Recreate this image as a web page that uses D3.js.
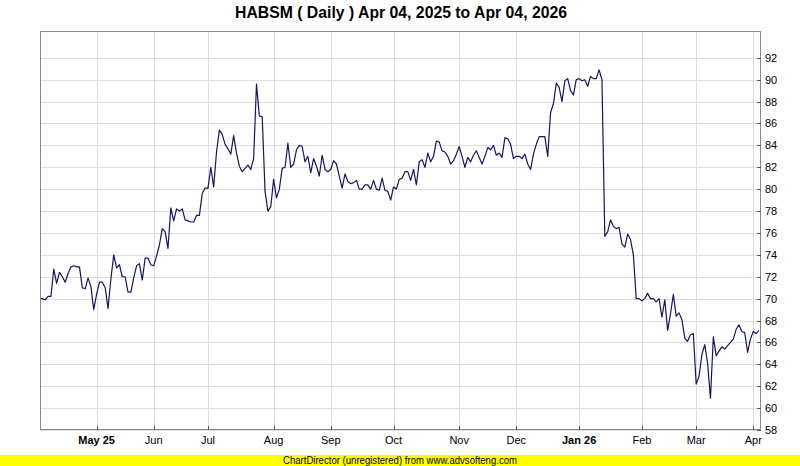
<!DOCTYPE html>
<html>
<head>
<meta charset="utf-8">
<script src="https://cdn.jsdelivr.net/npm/d3@7"></script>
<style>
  body { margin: 0; background: #ffffff; }
  svg { display: block; font-family: "Liberation Sans", Arial, sans-serif; }
</style>
</head>
<body>
<svg id="chart"></svg>
<script>
// daily closing prices, one per trading day (Apr 04 2025 -> Apr 04 2026)
const closes = [
  70.0, 70.0, 69.9, 70.2, 70.2, 72.7, 71.4, 72.4, 72.0, 71.5,
  72.3, 72.9, 73.0, 72.9, 72.9, 71.0, 70.9, 71.9, 71.1, 69.0,
  70.4, 71.5, 71.5, 71.0, 69.1, 71.8, 74.0, 72.8, 73.1, 72.0,
  72.0, 70.6, 70.6, 71.9, 73.0, 73.2, 71.7, 73.7, 73.7, 73.1,
  73.0, 73.9, 74.9, 76.4, 76.1, 74.6, 78.3, 77.1, 78.2, 78.0,
  78.2, 77.2, 77.1, 77.0, 77.0, 77.6, 77.6, 79.6, 80.1, 80.1,
  82.0, 80.2, 83.4, 85.4, 85.0, 84.1, 83.7, 83.2, 84.9, 83.3,
  82.1, 81.6, 81.9, 82.2, 81.8, 82.8, 89.6, 86.7, 86.6, 79.8,
  78.0, 78.4, 80.9, 79.2, 80.0, 81.9, 82.0, 84.2, 82.0, 82.3,
  83.6, 84.0, 83.9, 82.5, 83.0, 81.5, 82.8, 82.1, 81.2, 83.1,
  81.8, 81.6, 81.8, 82.6, 82.3, 81.2, 80.1, 81.4, 80.7, 80.5,
  80.6, 80.8, 80.0, 80.0, 80.4, 80.4, 80.0, 80.8, 80.0, 79.9,
  81.0, 79.9, 79.8, 79.0, 80.2, 80.0, 80.9, 81.0, 81.6, 81.6,
  80.8, 81.8, 80.4, 82.5, 82.7, 82.0, 83.3, 82.5, 83.0, 84.4,
  84.3, 83.5, 83.4, 83.0, 82.3, 82.6, 83.2, 83.9, 83.0, 82.0,
  82.9, 82.5, 83.1, 83.5, 82.9, 82.3, 83.0, 83.8, 83.6, 84.0,
  83.1, 83.3, 82.9, 84.7, 84.6, 84.1, 82.8, 83.0, 83.0, 82.8,
  83.2, 82.3, 81.8, 83.2, 84.1, 84.8, 84.8, 84.8, 83.0, 87.0,
  87.8, 89.7, 89.3, 88.0, 89.9, 90.1, 89.0, 88.6, 90.0, 90.1,
  89.9, 90.0, 89.4, 90.3, 90.1, 90.1, 90.9, 90.0, 75.7, 76.1,
  77.2, 76.6, 76.4, 76.5, 75.0, 74.7, 75.9, 75.4, 74.0, 70.0,
  70.0, 69.8, 70.0, 70.5, 70.0, 70.0, 69.7, 70.0, 68.3, 69.9,
  67.1, 68.6, 70.4, 68.4, 68.7, 68.1, 66.4, 66.1, 66.7, 66.8,
  62.2, 62.9, 64.9, 65.8, 64.1, 60.9, 66.5, 64.8, 65.2, 65.6,
  65.4, 65.7, 66.0, 66.3, 67.2, 67.6, 67.0, 66.9, 65.1, 66.3,
  67.0, 66.8, 67.1
];

// first trading day of each month (index into closes) and its label
const monthIndex  = [20, 40, 59, 82, 102, 124, 147, 167, 189, 211, 230, 250];
const monthLabels = ["May 25", "Jun", "Jul", "Aug", "Sep", "Oct", "Nov", "Dec", "Jan 26", "Feb", "Mar", "Apr"];

const priceTicks = [58, 60, 62, 64, 66, 68, 70, 72, 74, 76, 78, 80, 82, 84, 86, 88, 90, 92];

const titleText  = "HABSM ( Daily ) Apr 04, 2025 to Apr 04, 2026";
const footerText = "ChartDirector (unregistered) from www.advsofteng.com";

const W = 800, H = 466;
const plot = {left: 40, top: 31, right: 761, bottom: 430};

const svg = d3.select("#chart").attr("width", W).attr("height", H);

const x = d3.scaleLinear().domain([0, closes.length - 1]).range([39.5, 759]);
const y = d3.scaleLinear().domain([58, 94.45]).range([plot.bottom, plot.top]);

// title (narrow bold face, squeezed to the reference width)
svg.append("text")
    .attr("x", 401).attr("y", 18)
    .attr("text-anchor", "middle")
    .attr("textLength", 332)
    .attr("lengthAdjust", "spacingAndGlyphs")
    .style("font-weight", "bold")
    .style("font-size", "17px")
    .attr("fill", "#000")
    .text(titleText);

// plot background
svg.append("rect")
    .attr("x", plot.left).attr("y", plot.top)
    .attr("width", plot.right - plot.left).attr("height", plot.bottom - plot.top)
    .attr("fill", "#ffffff");

// grid
const grid = svg.append("g").attr("stroke", "#dddddd").attr("stroke-width", 1);
grid.selectAll(".hg").data(priceTicks).enter().append("line")
    .attr("x1", plot.left).attr("x2", plot.right)
    .attr("y1", d => Math.round(y(d)) + 0.5).attr("y2", d => Math.round(y(d)) + 0.5);
grid.selectAll(".vg").data(monthIndex).enter().append("line")
    .attr("x1", d => Math.round(x(d)) + 0.5).attr("x2", d => Math.round(x(d)) + 0.5)
    .attr("y1", plot.top).attr("y2", plot.bottom);

// price line
svg.append("defs").append("clipPath").attr("id", "clip")
    .append("rect")
    .attr("x", plot.left).attr("y", plot.top)
    .attr("width", plot.right - plot.left).attr("height", plot.bottom - plot.top);

const line = d3.line().x((d, i) => x(i)).y(d => y(d));
svg.append("path")
    .datum(closes)
    .attr("clip-path", "url(#clip)")
    .attr("fill", "none")
    .attr("stroke", "#141464")
    .attr("stroke-width", 1.2)
    .attr("stroke-linejoin", "round")
    .attr("d", line);

// border
svg.append("rect")
    .attr("x", plot.left + 0.5).attr("y", plot.top + 0.5)
    .attr("width", plot.right - plot.left - 1).attr("height", plot.bottom - plot.top - 1)
    .attr("fill", "none").attr("stroke", "#888888");

// y axis (right side, ticks pointing inward)
const yAxis = svg.append("g").style("font-size", "11px");
yAxis.selectAll("line").data(priceTicks).enter().append("line")
    .attr("x1", plot.right - 4).attr("x2", plot.right)
    .attr("y1", d => Math.round(y(d)) + 0.5).attr("y2", d => Math.round(y(d)) + 0.5)
    .attr("stroke", "#555");
yAxis.selectAll("text").data(priceTicks).enter().append("text")
    .attr("x", plot.right + 4)
    .attr("y", d => y(d) + 4)
    .attr("fill", "#000")
    .text(d => d);

// x axis (month labels, ticks pointing inward)
const xAxis = svg.append("g").style("font-size", "11px");
xAxis.selectAll("line").data(monthIndex).enter().append("line")
    .attr("x1", d => Math.round(x(d)) + 0.5).attr("x2", d => Math.round(x(d)) + 0.5)
    .attr("y1", plot.bottom - 4).attr("y2", plot.bottom)
    .attr("stroke", "#555");
xAxis.selectAll("text").data(monthIndex).enter().append("text")
    .attr("x", d => x(d))
    .attr("y", plot.bottom + 14)
    .attr("text-anchor", "middle")
    .style("font-weight", (d, i) => monthLabels[i].includes(" ") ? "bold" : "normal")
    .attr("fill", "#000")
    .text((d, i) => monthLabels[i]);

// footer banner
svg.append("rect")
    .attr("x", 0).attr("y", 455).attr("width", W).attr("height", 11)
    .attr("fill", "#ffff00");
svg.append("text")
    .attr("x", 400).attr("y", 464)
    .attr("text-anchor", "middle")
    .attr("textLength", 234)
    .attr("lengthAdjust", "spacingAndGlyphs")
    .style("font-size", "10px")
    .attr("fill", "#000")
    .text(footerText);
</script>
</body>
</html>
